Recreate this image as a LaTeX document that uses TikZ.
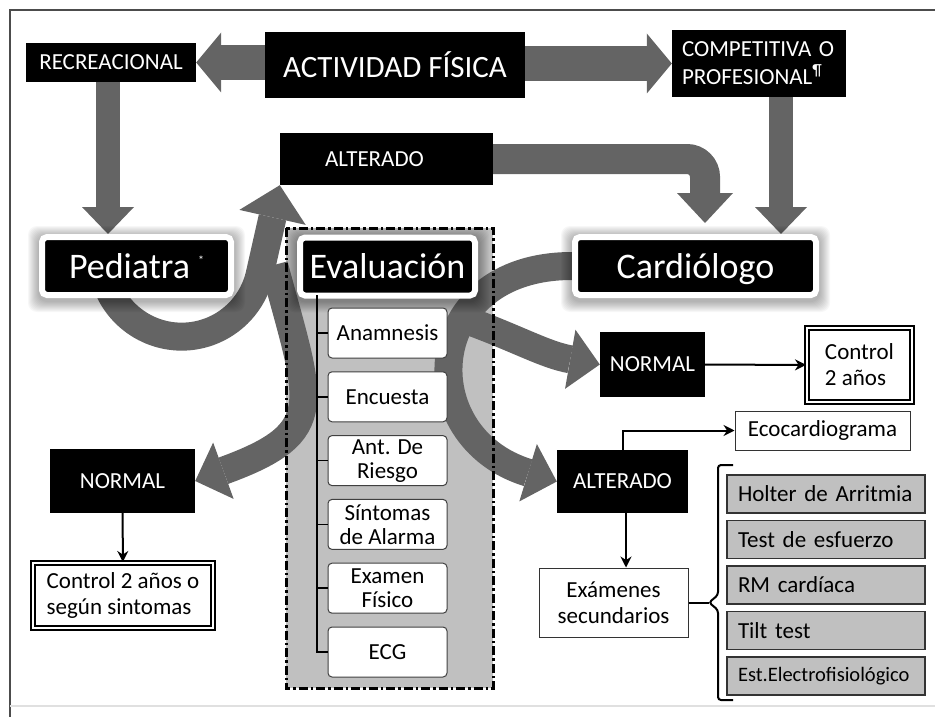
\documentclass[tikz,border=0pt]{standalone}
\usepackage{fontspec}
\setmainfont{Carlito}
\usetikzlibrary{arrows.meta}

\definecolor{bandgray}{RGB}{100,100,100}
\definecolor{zonegray}{RGB}{192,192,192}

\pgfdeclarelayer{back}
\pgfdeclarelayer{bands}
\pgfdeclarelayer{glow}
\pgfsetlayers{back,bands,glow,main}

\tikzset{
  blackbox/.style={fill=black, text=white, inner sep=0pt, font=\fontsize{23}{28}\selectfont},
  bigbox/.style={fill=black, text=white, draw=white, line width=6pt, rounded corners=5pt,
    minimum height=58pt, inner sep=0pt, text height=28pt, text depth=4pt,
    font=\fontsize{36}{40}\selectfont},
  glowring/.style={fill=black, opacity=0.03, rounded corners=9pt},
  itembox/.style={fill=white, draw=black!75, line width=1pt, rounded corners=4pt,
    minimum width=119pt, minimum height=50pt, inner sep=0pt, align=center,
    font=\fontsize{23}{24}\selectfont},
  testbox/.style={fill=zonegray, draw=black!80, line width=1.2pt, minimum height=38pt,
    text width=176pt, inner xsep=11pt, inner ysep=0pt, align=left,
    font=\fontsize{23}{26}\selectfont},
  whitebox/.style={fill=white, draw=black!80, line width=1pt, inner sep=0pt, align=center,
    font=\fontsize{23}{26}\selectfont},
  ctrlbox/.style={fill=white, draw=black, double=white, double distance=1.5pt, line width=2pt,
    inner sep=0pt, align=left, font=\fontsize{23}{26}\selectfont},
  band/.style={draw=bandgray, line width=28pt, -{Triangle[length=30pt,width=60pt,line width=0pt]}},
  sideband/.style={draw=bandgray, line width=35pt, -{Triangle[length=25pt,width=60pt,line width=0pt]}},
  downband/.style={draw=bandgray, line width=24pt, -{Triangle[length=27pt,width=52pt,line width=0pt]}},
  thinarrow/.style={draw=black, line width=2pt, -{Stealth[length=11pt,width=11pt]}},
  treeline/.style={draw=black, line width=1.5pt},
  zoneborder/.style={draw=black, line width=3pt, dash pattern=on 9pt off 3pt on 2.5pt off 3pt},
}

\begin{document}
\begin{tikzpicture}[x=1pt,y=1pt]
\useasboundingbox (0,0) rectangle (935,-717);
% frame
\draw[black!70, line width=2pt] (10,-717) -- (10,-10) -- (935,-10);
\draw[black!12, line width=2pt] (10,-706) -- (935,-706);

% top row
\node[blackbox, minimum width=260pt, minimum height=66pt, font=\fontsize{31}{34}\selectfont] (actividad) at (395,-65) {ACTIVIDAD FÍSICA};
\node[blackbox, minimum width=170pt, minimum height=39pt] (recreacional) at (111,-62.5) {RECREACIONAL};
\node[blackbox, minimum width=174pt, minimum height=67pt, text width=154pt, align=left] (competitiva) at (759,-63.5) {COMPETITIVA O\\PROFESIONAL\textsuperscript{¶}};
\node[blackbox, minimum width=213pt, minimum height=52pt, text width=213pt, align=left] (alteradoTop) at (386.5,-159) {\hspace*{45pt}ALTERADO};

% evaluation zone
\begin{pgfonlayer}{back}
\fill[zonegray] (286,-228) rectangle (493,-688);
\end{pgfonlayer}
\draw[zoneborder] (286,-228) rectangle (493,-688);

\node[bigbox, minimum width=189pt] (pediatra) at (136.5,-266) {Pediatra\hspace{8pt}\raisebox{14pt}{\fontsize{12}{12}\selectfont *}};
\node[bigbox, minimum width=175pt] (evaluacion) at (387.5,-266.5) {Evaluación};
\node[bigbox, minimum width=241pt] (cardiologo) at (695.5,-266) {Cardiólogo};
\begin{pgfonlayer}{glow}
\foreach \b in {pediatra,evaluacion,cardiologo}
  \foreach \g in {1,...,11}
    \fill[glowring] ([shift={(-\g,-\g-3)}]\b.south west) rectangle ([shift={(\g,\g-3)}]\b.north east);
\end{pgfonlayer}

\foreach \name/\txt [count=\i] in {anam/Anamnesis, encu/Encuesta, riesgo/Ant. De\\Riesgo,
    sint/Síntomas\\de Alarma, exam/Examen\\Físico, ecg/ECG}
  \node[itembox] (\name) at (387.5,{-333-63.8*(\i-1)}) {\txt};

\coordinate (treetop) at (317,-295);
\draw[treeline] (treetop) |- (ecg.west);
\foreach \n in {anam,encu,riesgo,sint,exam}
  \draw[treeline] (treetop |- \n.west) -- (\n.west);

% left branch
\node[blackbox, minimum width=145pt, minimum height=64pt] (normalLeft) at (122.5,-481) {NORMAL};
\node[ctrlbox, minimum width=180pt, minimum height=65pt] (controlLeft) at (123,-595.5) {Control 2 años o\\según sintomas};
\draw[thinarrow] (normalLeft) -- (controlLeft);

% right branch
\node[blackbox, minimum width=105pt, minimum height=65pt] (normalRight) at (652.5,-364.5) {NORMAL};
\node[ctrlbox, minimum width=105pt, minimum height=74pt] (controlRight) at (859.5,-365) {Control\\2 años};
\draw[thinarrow] (normalRight) -- (controlRight);

\node[blackbox, minimum width=131pt, minimum height=63pt] (alteradoRight) at (622.5,-481.5) {ALTERADO};
\node[whitebox, minimum width=175pt, minimum height=39pt] (eco) at (822.5,-430.5) {Ecocardiograma};
\node[whitebox, minimum width=149pt, minimum height=69pt] (examenes) at (613.5,-602.5) {Exámenes\\secundarios};
\draw[thinarrow] (alteradoRight.north) |- (eco.west);
\draw[thinarrow] ([xshift=3.5pt]alteradoRight.south) -- ([xshift=3.5pt]alteradoRight.south |- examenes.north);

\foreach \name/\txt [count=\i] in {holter/Holter de Arritmia, esfuerzo/Test de esfuerzo,
    rm/RM cardíaca, tilt/Tilt test, electro/{\fontsize{20.5}{24}\selectfont Est.Electrofisiológico}}
  \node[testbox] (\name) at (826,{-494-45.5*(\i-1)}) {\txt};

\coordinate (bracetip) at (709,-602.5);
\draw[line width=2pt] (examenes.east) -- (bracetip);
\draw[line width=2pt, rounded corners=3pt] (733,-465) -- (718,-465) -- (718,-595) -- (bracetip) -- (718,-610) -- (718,-700) -- (733,-700);

% block arrows
\coordinate (ljoin) at (274,-265);
\coordinate (rjoin) at (466,-320);
\begin{pgfonlayer}{bands}
\draw[sideband] (actividad.west |- recreacional.east) -- (recreacional.east);
\draw[sideband] (actividad.east |- competitiva.west) -- (competitiva.west);
\draw[downband] ([xshift=-3pt]recreacional.south) -- ([xshift=-3pt]recreacional.south |- pediatra.north);
\draw[downband] ([xshift=22pt]competitiva.south) -- ([xshift=22pt]competitiva.south |- cardiologo.north);
\draw[band, line width=30pt, rounded corners=18pt, -{Triangle[length=30pt,width=56pt,line width=0pt]}]
  (alteradoTop.east) -| ([xshift=9.5pt,yshift=11pt]cardiologo.north);
\draw[band, -{Triangle[length=33pt,width=68pt,line width=0pt]}]
  ([xshift=-30pt,yshift=14pt]pediatra.south) arc[start angle=200,end angle=346,radius=80pt] -- (alteradoTop.south west);
\draw[band] (ljoin) to[out=-75,in=20,looseness=1.6] (normalLeft.east);
\draw[band] (cardiologo.west) to[out=180,in=163,looseness=1.8] (alteradoRight.west);
\draw[band] (rjoin) to[out=-20,in=170] (normalRight.west);
\end{pgfonlayer}
\end{tikzpicture}
\end{document}
